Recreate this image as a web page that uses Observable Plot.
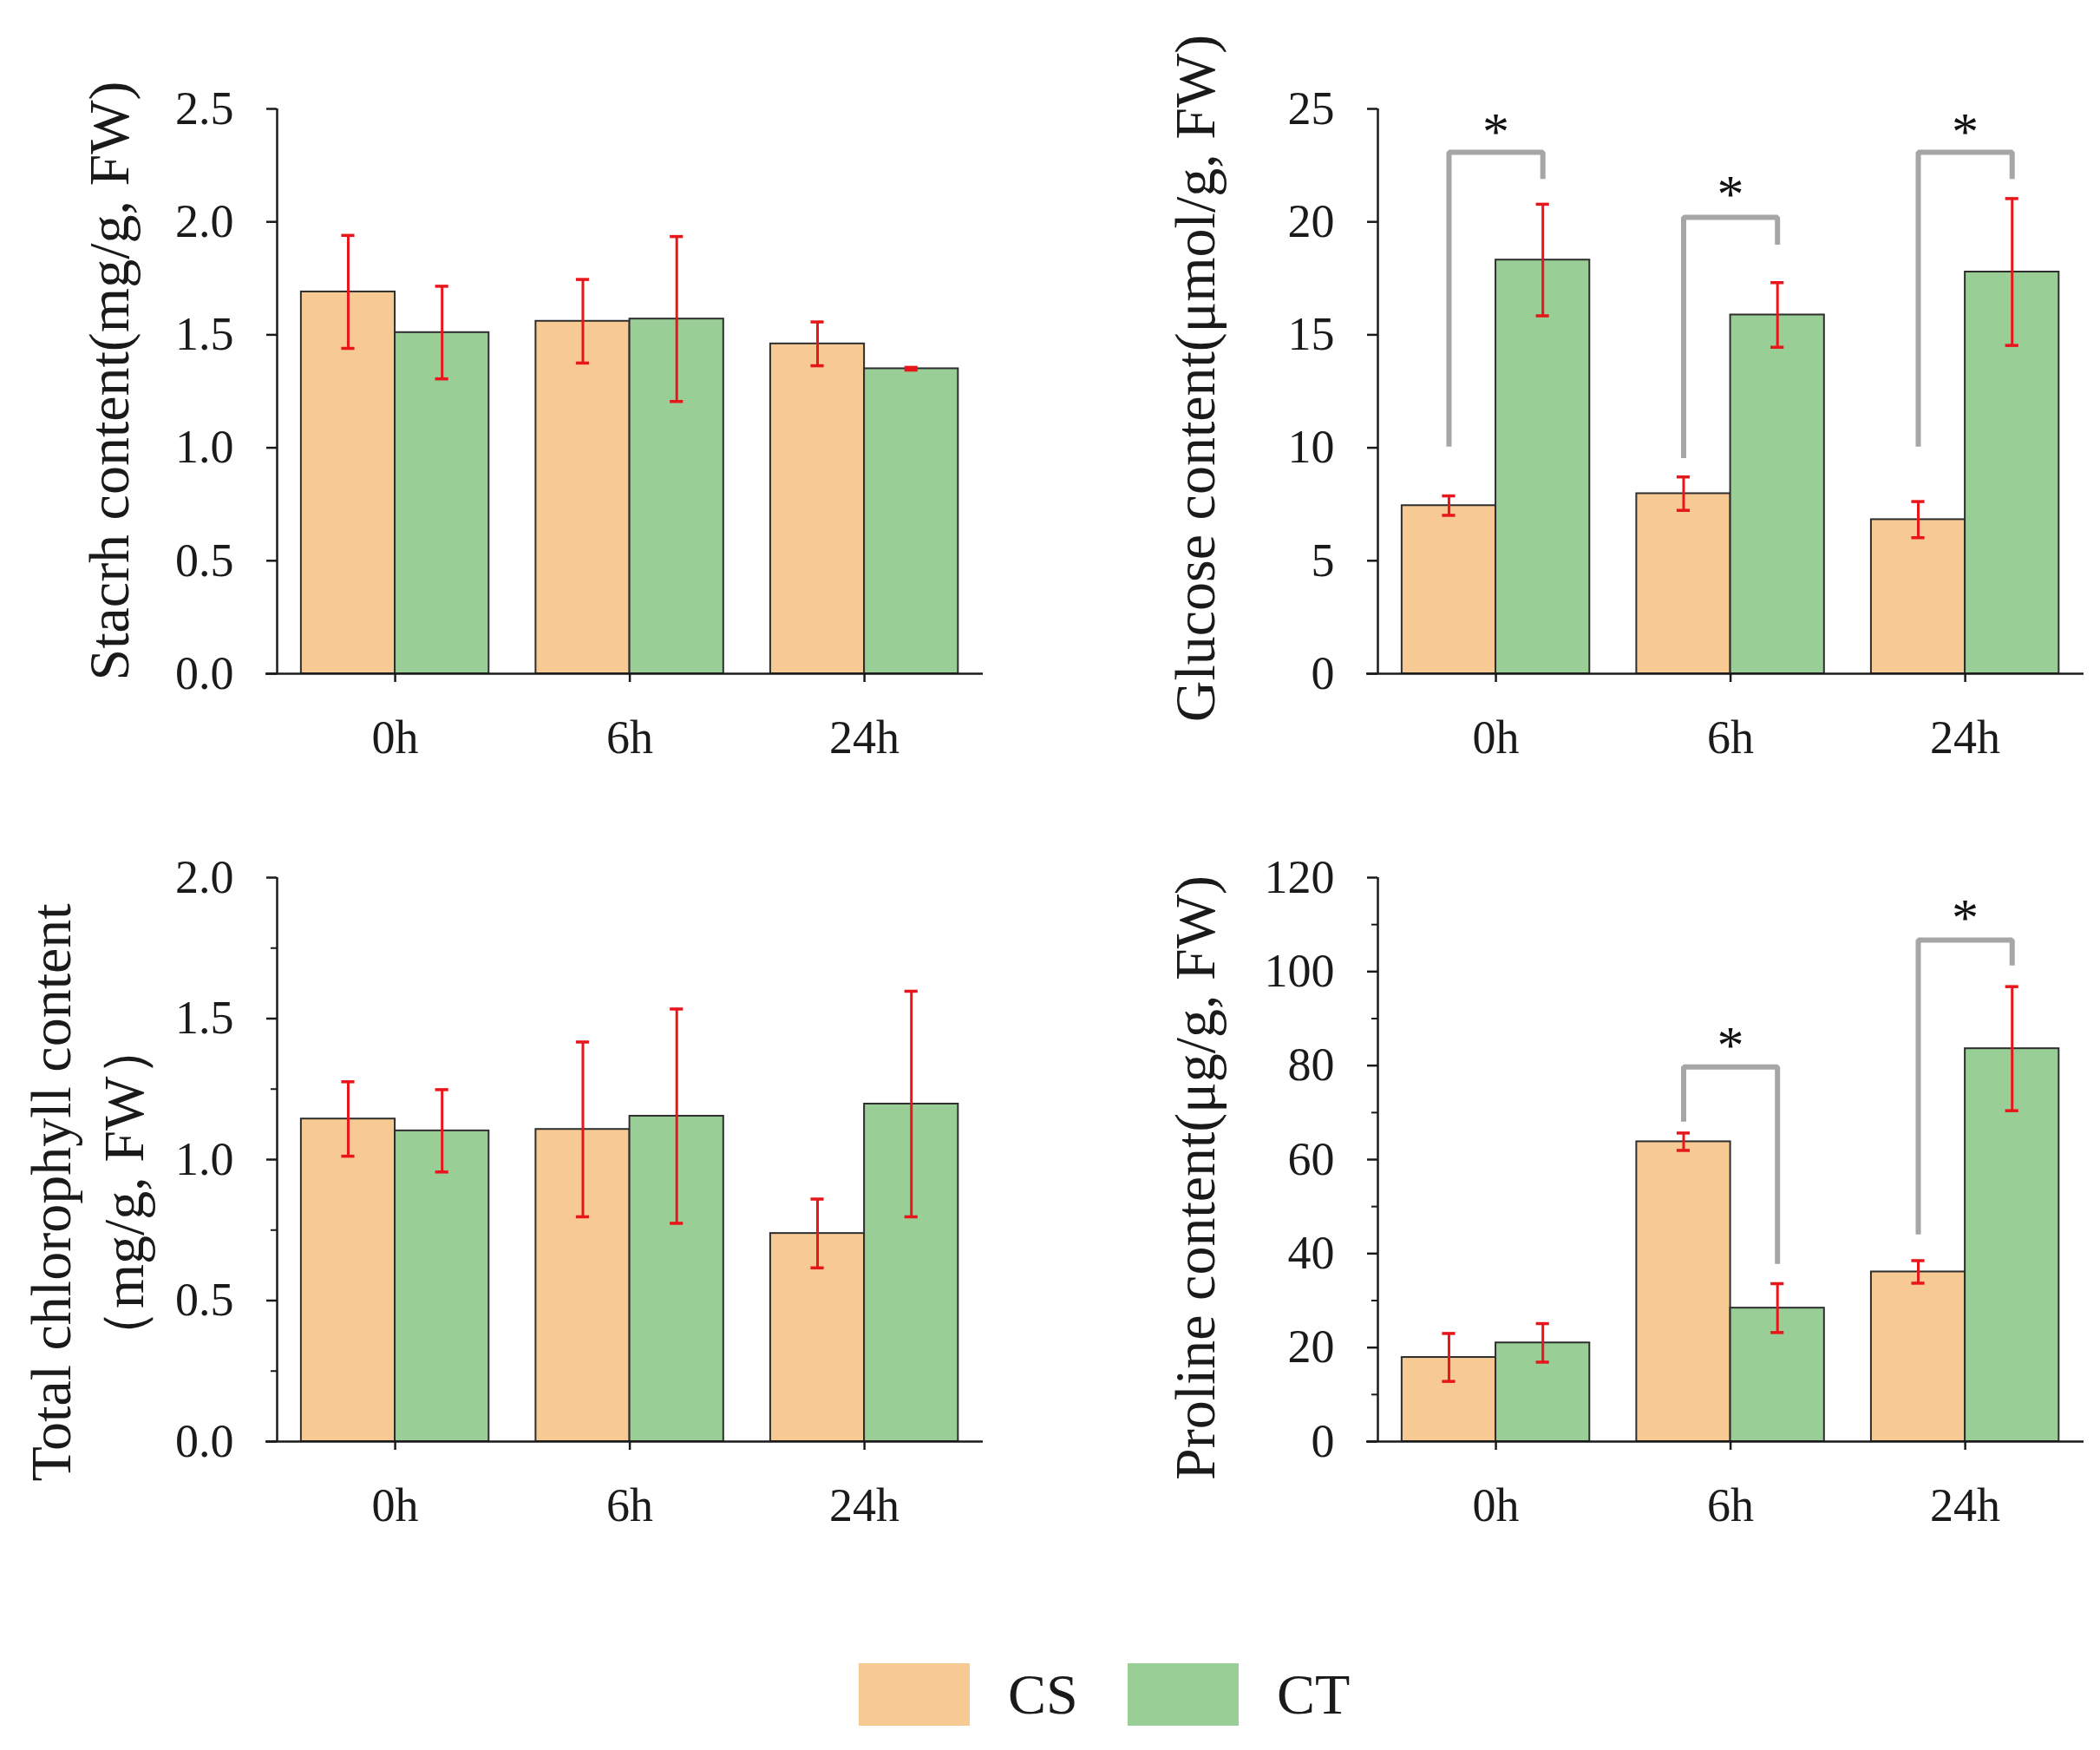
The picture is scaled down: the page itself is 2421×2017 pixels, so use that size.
<!DOCTYPE html>
<html>
<head>
<meta charset="utf-8">
<script src="https://cdn.jsdelivr.net/npm/d3@7"></script>
<script src="https://cdn.jsdelivr.net/npm/@observablehq/plot@0.6"></script>
<style>
  html, body { margin: 0; padding: 0; background: #ffffff; }
  #page { position: relative; width: 2421px; height: 2017px; background: #ffffff; overflow: hidden;
          font-family: "Liberation Serif", "Times New Roman", serif; color: #1a1a1a; }
  .panel { position: absolute; }
  .legend-swatch { position: absolute; width: 128px; height: 72px; }
  .legend-label { position: absolute; font-size: 66px; line-height: 72px; height: 72px; }
</style>
</head>
<body>
<div id="page">
  <div class="panel" id="p1" style="left:0px; top:0px;"></div>
  <div class="panel" id="p2" style="left:1269px; top:0px;"></div>
  <div class="panel" id="p3" style="left:0px; top:886px;"></div>
  <div class="panel" id="p4" style="left:1269px; top:886px;"></div>
  <div class="legend-swatch" style="left:990px; top:1917px; background:#F8CA93;"></div>
  <div class="legend-label" style="left:1162px; top:1917px;">CS</div>
  <div class="legend-swatch" style="left:1300px; top:1917px; background:#99CE97;"></div>
  <div class="legend-label" style="left:1472px; top:1917px;">CT</div>
</div>
<script>
// ---------- data ----------
const times = ["0h", "6h", "24h"];
const groups = ["CS", "CT"];
const groupColors = ["#F8CA93", "#99CE97"];

// Starch content (mg/g, FW)
const starchCS = [1.69, 1.56, 1.46];
const starchCSErr = [0.25, 0.185, 0.097];
const starchCT = [1.51, 1.57, 1.35];
const starchCTErr = [0.205, 0.365, 0.006];
const starchTicks = [0, 0.5, 1.0, 1.5, 2.0, 2.5];

// Glucose content (umol/g, FW)
const glucoseCS = [7.44, 7.97, 6.82];
const glucoseCSErr = [0.43, 0.74, 0.80];
const glucoseCT = [18.31, 15.88, 17.78];
const glucoseCTErr = [2.47, 1.43, 3.25];
const glucoseTicks = [0, 5, 10, 15, 20, 25];
const glucoseSigTimes = ["0h", "6h", "24h"];
const glucoseBracketLeft = [10.05, 9.54, 10.05];
const glucoseBracketTop = [23.08, 20.2, 23.08];
const glucoseBracketRight = [21.9, 18.99, 21.9];
const glucoseStar = [24.3, 21.5, 24.3];

// Total chlorophyll content (mg/g, FW)
const chloroCS = [1.144, 1.107, 0.738];
const chloroCSErr = [0.132, 0.31, 0.122];
const chloroCT = [1.102, 1.154, 1.197];
const chloroCTErr = [0.146, 0.38, 0.40];
const chloroTicks = [0, 0.5, 1.0, 1.5, 2.0];
const chloroMinorTicks = [0.25, 0.75, 1.25, 1.75];

// Proline content (ug/g, FW)
const prolineCS = [17.9, 63.8, 36.1];
const prolineCSErr = [5.1, 1.85, 2.4];
const prolineCT = [21.0, 28.4, 83.6];
const prolineCTErr = [4.1, 5.2, 13.2];
const prolineTicks = [0, 20, 40, 60, 80, 100, 120];
const prolineMinorTicks = [10, 30, 50, 70, 90, 110];
const prolineSigTimes = ["6h", "24h"];
const prolineBracketLeft = [68.1, 44.1];
const prolineBracketTop = [79.7, 106.7];
const prolineBracketRight = [37.8, 101.3];
const prolineStar = [85.8, 112.9];

// ---------- styling constants ----------
const X_DOMAIN = [-0.503, 2.506];
const HALF = 0.4;        // bar width in category units
const CAP = 0.028;       // half width of error-bar caps
const RED = "#e8151b";
const AXIS = "#1a1a1a";
const BAR_STROKE = "#2e2e2e";
const BRACKET = "#a6a6a6";
const FONT = "'Liberation Serif', 'Times New Roman', serif";

function panel(el, o) {
  const rows = [];
  times.forEach((t, i) => {
    rows.push({i, t, group: "CS", v: o.cs[i], e: o.csErr[i], c: i - HALF / 2, x1: i - HALF, x2: i});
    rows.push({i, t, group: "CT", v: o.ct[i], e: o.ctErr[i], c: i + HALF / 2, x1: i, x2: i + HALF});
  });
  const bracketPts = [];
  const stars = [];
  (o.sigTimes || []).forEach((t, k) => {
    const i = times.indexOf(t);
    const l = i - HALF / 2, r = i + HALF / 2;
    bracketPts.push({id: k, x: l, y: o.bLeft[k]});
    bracketPts.push({id: k, x: l, y: o.bTop[k]});
    bracketPts.push({id: k, x: r, y: o.bTop[k]});
    bracketPts.push({id: k, x: r, y: o.bRight[k]});
    stars.push({x: i, y: o.star[k]});
  });

  const marks = [
    Plot.rectY(rows, {x1: "x1", x2: "x2", y1: 0, y2: "v", fill: "group", stroke: BAR_STROKE, strokeWidth: 2}),
    Plot.ruleX(rows, {x: "c", y1: d => d.v - d.e, y2: d => d.v + d.e, stroke: RED, strokeWidth: 3}),
    Plot.ruleY(rows, {y: d => d.v + d.e, x1: d => d.c - CAP, x2: d => d.c + CAP, stroke: RED, strokeWidth: 3.5}),
    Plot.ruleY(rows, {y: d => d.v - d.e, x1: d => d.c - CAP, x2: d => d.c + CAP, stroke: RED, strokeWidth: 3.5}),
    Plot.line(bracketPts, {x: "x", y: "y", z: "id", stroke: BRACKET, strokeWidth: 6, strokeLinejoin: "miter", strokeLinecap: "butt"}),
    Plot.text(stars, {x: "x", y: "y", text: () => "*", fontSize: 62, fill: "#111", dy: 8}),
    Plot.ruleX([X_DOMAIN[0]], {stroke: AXIS, strokeWidth: 2.5}),
    Plot.ruleY([0], {stroke: AXIS, strokeWidth: 2.5, insetLeft: -13}),
    Plot.axisY({ticks: o.ticks, tickFormat: o.fmt, tickSize: 12, tickPadding: 38, label: null, stroke: AXIS, strokeWidth: 2.5}),
    Plot.axisX({ticks: [0, 1, 2], tickFormat: i => times[i], tickSize: 10, tickPadding: 43, label: null, stroke: AXIS, strokeWidth: 2.5}),
    Plot.text([o.title], {text: d => d, frameAnchor: "left", textAnchor: "middle", lineAnchor: "middle",
                         rotate: -90, dx: o.titleDx, dy: o.titleDy,
                         fontSize: 66, lineHeight: 1.27, fill: "#1a1a1a"})
  ];
  if (o.minor) {
    marks.push(Plot.axisY({ticks: o.minor, tickFormat: () => "", tickSize: 7, label: null, stroke: AXIS, strokeWidth: 2}));
  }

  const chart = Plot.plot({
    width: 1152,
    height: o.height,
    marginLeft: 319,
    marginRight: 19,
    marginTop: 125,
    marginBottom: o.height - 125 - o.frameH,
    x: {domain: X_DOMAIN},
    y: {domain: o.yDomain},
    color: {domain: groups, range: groupColors},
    style: {fontFamily: FONT, fontSize: "54px", color: "#1a1a1a", background: "transparent", overflow: "visible"},
    marks
  });
  el.appendChild(chart);
}

const f1 = d3.format(".1f");
const f0 = d3.format("d");

panel(document.getElementById("p1"), {
  cs: starchCS, csErr: starchCSErr, ct: starchCT, ctErr: starchCTErr,
  yDomain: [0, 2.5], ticks: starchTicks, fmt: f1,
  title: "Stacrh content(mg/g, FW)", titleDx: -198, titleDy: -12,
  height: 900, frameH: 651
});
panel(document.getElementById("p2"), {
  cs: glucoseCS, csErr: glucoseCSErr, ct: glucoseCT, ctErr: glucoseCTErr,
  yDomain: [0, 25], ticks: glucoseTicks, fmt: f0,
  sigTimes: glucoseSigTimes, bLeft: glucoseBracketLeft, bTop: glucoseBracketTop,
  bRight: glucoseBracketRight, star: glucoseStar,
  title: "Glucose content(μmol/g, FW)", titleDx: -215, titleDy: -15,
  height: 900, frameH: 651
});
panel(document.getElementById("p3"), {
  cs: chloroCS, csErr: chloroCSErr, ct: chloroCT, ctErr: chloroCTErr,
  yDomain: [0, 2.0], ticks: chloroTicks, fmt: f1, minor: chloroMinorTicks,
  title: "Total chlorophyll content\n（mg/g, FW）", titleDx: -223, titleDy: 38,
  height: 900, frameH: 650
});
panel(document.getElementById("p4"), {
  cs: prolineCS, csErr: prolineCSErr, ct: prolineCT, ctErr: prolineCTErr,
  yDomain: [0, 120], ticks: prolineTicks, fmt: f0, minor: prolineMinorTicks,
  sigTimes: prolineSigTimes, bLeft: prolineBracketLeft, bTop: prolineBracketTop,
  bRight: prolineBracketRight, star: prolineStar,
  title: "Proline content(μg/g, FW)", titleDx: -215, titleDy: 21,
  height: 900, frameH: 650
});
</script>
</body>
</html>
